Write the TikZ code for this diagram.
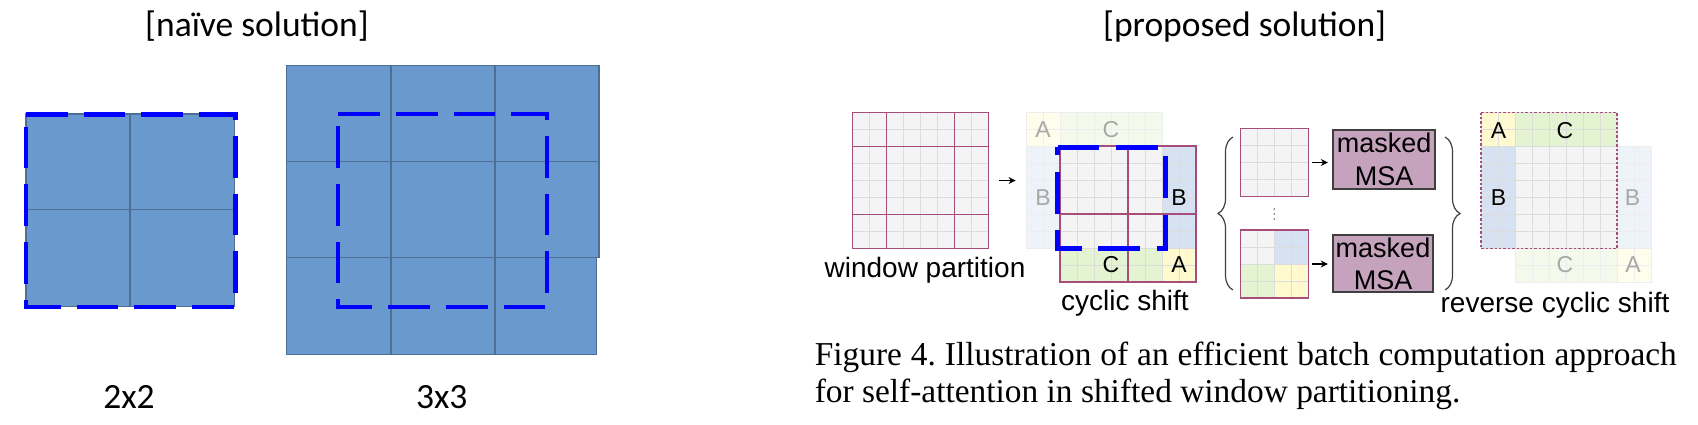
\documentclass[tikz,border=0pt]{standalone}
\usepackage{fontspec}
\setmainfont{Liberation Sans}
\newfontfamily\titlefont{Carlito}
\newfontfamily\capfont{Liberation Serif}
\usetikzlibrary{arrows.meta,decorations.pathreplacing,fit}
\definecolor{naivefill}{HTML}{6A99CE}
\definecolor{naiveline}{HTML}{4D6F96}
\definecolor{dashblue}{HTML}{0000FF}
\definecolor{cellgray}{HTML}{F4F4F4}
\definecolor{cellline}{HTML}{DCDCDC}
\definecolor{fadeline}{HTML}{EDEDED}
\definecolor{winline}{HTML}{A64D79}
\definecolor{cA}{HTML}{FFF9CF}
\definecolor{cB}{HTML}{D6E1F2}
\definecolor{cC}{HTML}{E4F4D2}
\definecolor{fA}{HTML}{FFFDEB}
\definecolor{fB}{HTML}{EEF2F9}
\definecolor{fC}{HTML}{F3FAEB}
\definecolor{msafill}{HTML}{C5A3BD}
\definecolor{msaline}{HTML}{3F3F3F}
\definecolor{fadetext}{HTML}{A8A8A8}
\newcommand{\cellsgrid}[5][cellgrid]{%
  \foreach \gi in {0,...,#4}{\draw[#1] ({#2+17*\gi},#3) -- ({#2+17*\gi},{#3+17*#5});}%
  \foreach \gj in {0,...,#5}{\draw[#1] (#2,{#3+17*\gj}) -- ({#2+17*#4},{#3+17*\gj});}%
}
\frenchspacing
\begin{document}
\begin{tikzpicture}[x=0.5pt,y=-0.5pt,
  naivecell/.style={fill=naivefill, draw=naiveline, line width=0.7pt},
  naivegrid/.style={draw=naiveline, line width=0.7pt},
  bluedash/.style={draw=dashblue, line width=2.1pt, dash pattern=on 20.85pt off 8pt},
  bluedashb/.style={draw=dashblue, line width=2.5pt, dash pattern=on 20.85pt off 8.35pt},
  window/.style={draw=winline, line width=0.8pt},
  cellgrid/.style={draw=cellline, line width=0.5pt},
  fadegrid/.style={draw=fadeline, line width=0.5pt},
  title/.style={font=\titlefont\fontsize{17.75}{20}\selectfont, anchor=base, inner sep=0},
  lbl/.style={font=\fontsize{14}{16}\selectfont, anchor=base, inner sep=0},
  letter/.style={font=\fontsize{11.5}{13}\selectfont, inner sep=0},
  fadeletter/.style={letter, text=fadetext},
  msabox/.style={fill=msafill, draw=msaline, line width=1pt, align=center,
    font=\fontsize{13.5}{16.3}\selectfont, inner sep=0},
  arr/.style={-{Stealth[length=3.5pt,width=3.5pt]}, line width=0.6pt},
  curly/.style={decorate, decoration={brace, amplitude=7.5pt}, draw=black!75, line width=0.6pt},
  capt/.style={font=\capfont\fontsize{16.7}{19}\selectfont, anchor=base west, inner sep=0}
]
\useasboundingbox (0,0) rectangle (1698,424);

% ---------- naive solution ----------
\node[title] (naivetitle) at (257,36) {[naïve solution]};
\filldraw[naivecell] (26,114) rectangle (234.3,306.7);
\draw[naivegrid] (130,114) -- (130,306.7);
\draw[naivegrid] (26,209.3) -- (234.3,209.3);
\draw[bluedash] (26,114.5) -- (235.5,114.5) -- (235.5,307) -- (26,307) -- cycle;

\filldraw[naivecell] (286.7,65.7) rectangle (599,257.7);
\filldraw[naivecell] (286.7,257.7) rectangle (596.7,354.3);
\draw[naivegrid] (391,65.7) -- (391,354.3);
\draw[naivegrid] (495,65.7) -- (495,354.3);
\draw[naivegrid] (286.7,161.7) -- (599,161.7);
\draw[bluedash] (338.3,114) -- (547.3,114) -- (547.3,307) -- (338.3,307) -- cycle;

\node[title] (lbltwo) at (129,408) {2x2};
\node[title] (lblthree) at (441.7,408) {3x3};

% ---------- proposed solution ----------
\node[title] (proptitle) at (1244.7,36) {[proposed solution]};

% window partition
\fill[cellgray] (852.5,112.5) rectangle (988.5,248.5);
\cellsgrid{852.5}{112.5}{8}{8}
\draw[window] (886.5,112.5) -- (886.5,248.5);
\draw[window] (954.5,112.5) -- (954.5,248.5);
\draw[window] (852.5,146.5) -- (988.5,146.5);
\draw[window] (852.5,214.5) -- (988.5,214.5);
\draw[window] (852.5,112.5) rectangle (988.5,248.5);
\node[fit={(852.5,112.5)(988.5,248.5)}, inner sep=0] (wp) {};
\node[lbl] (wplbl) at (925,277) {window partition};

% cyclic shift: faded original part
\fill[fA] (1026,112) rectangle (1060,146);
\fill[fC] (1060,112) rectangle (1162,146);
\fill[fB] (1026,146) rectangle (1060,248);
\cellsgrid[fadegrid]{1026}{112}{8}{2}
\cellsgrid[fadegrid]{1026}{146}{2}{6}
\node[fit={(1026,112)(1162,248)}, inner sep=0] (csfade) {};
\node[fadeletter] (fa1) at (1043,129.5) {A};
\node[fadeletter] (fc1) at (1111,129.5) {C};
\node[fadeletter] (fb1) at (1043,197.5) {B};
% cyclic shift: main
\fill[cellgray] (1060,146) rectangle (1196,282);
\fill[cB] (1162,146) rectangle (1196,248);
\fill[cC] (1060,248) rectangle (1162,282);
\fill[cA] (1162,248) rectangle (1196,282);
\cellsgrid{1060}{146}{8}{8}
\draw[window] (1128,146) -- (1128,282);
\draw[window] (1060,214) -- (1196,214);
\draw[window] (1060,146) rectangle (1196,282);
\node[fit={(1060,146)(1196,282)}, inner sep=0] (cs) {};
\node[letter] (lb1) at (1179,197.5) {B};
\node[letter] (lc1) at (1111,265) {C};
\node[letter] (la1) at (1179,265) {A};
\draw[bluedashb] (1057.5,147) -- (1165,147) -- (1165,248) -- (1057.5,248) -- cycle;
\node[lbl] (cslbl) at (1125,310) {cyclic shift};

\draw[arr, shorten <=5.25pt, shorten >=5pt] (wp.east) -- (csfade.west |- wp.east);

% braces and small windows
\coordinate (lbtop) at (1233,137);
\coordinate (lbbot) at (1233,290);
\coordinate (rbtop) at (1445,137);
\coordinate (rbbot) at (1445,290);
\draw[curly] (lbbot) -- (lbtop);
\draw[curly] (rbtop) -- (rbbot);

\fill[cellgray] (1240.5,128.5) rectangle (1308.5,196.5);
\cellsgrid{1240.5}{128.5}{4}{4}
\draw[window] (1240.5,128.5) rectangle (1308.5,196.5);
\node[fit={(1240.5,128.5)(1308.5,196.5)}, inner sep=0] (sgone) {};

\fill[cellgray] (1240.5,230) rectangle (1274.5,264);
\fill[cB] (1274.5,230) rectangle (1308.5,264);
\fill[cC] (1240.5,264) rectangle (1274.5,298);
\fill[cA] (1274.5,264) rectangle (1308.5,298);
\cellsgrid{1240.5}{230}{4}{4}
\draw[window] (1240.5,230) rectangle (1308.5,298);
\node[fit={(1240.5,230)(1308.5,298)}, inner sep=0] (sgtwo) {};

\fill[black!60] (1274.3,209) circle[radius=0.45pt];
\fill[black!60] (1274.3,214) circle[radius=0.45pt];
\fill[black!60] (1274.3,219) circle[radius=0.45pt];

\node[msabox, minimum width=51pt, minimum height=29.5pt] (msaone) at (1384.2,159.2) {masked\\MSA};
\node[msabox, minimum width=49.8pt, minimum height=28.5pt] (msatwo) at (1383,263.9) {masked\\MSA};
\draw[arr, shorten <=1.6pt, shorten >=2.2pt] (sgone.east) -- (msaone.west |- sgone.east);
\draw[arr, shorten <=1.6pt, shorten >=2.2pt] (sgtwo.east) -- (msatwo.west |- sgtwo.east);

% reverse cyclic shift: faded part
\fill[fB] (1617,146.5) rectangle (1651,248.5);
\fill[fC] (1515,248.5) rectangle (1617,282.5);
\fill[fA] (1617,248.5) rectangle (1651,282.5);
\cellsgrid[fadegrid]{1617}{146.5}{2}{6}
\cellsgrid[fadegrid]{1515}{248.5}{8}{2}
\node[fadeletter] (fb2) at (1632.5,197.5) {B};
\node[fadeletter] (fc2) at (1565,265) {C};
\node[fadeletter] (fa2) at (1633,265) {A};
% reverse cyclic shift: main
\fill[cellgray] (1481,112.5) rectangle (1617,248.5);
\fill[cA] (1481,112.5) rectangle (1515,146.5);
\fill[cC] (1515,112.5) rectangle (1617,146.5);
\fill[cB] (1481,146.5) rectangle (1515,248.5);
\cellsgrid{1481}{112.5}{8}{8}
\draw[draw=winline, line width=0.6pt, dash pattern=on 1.2pt off 1pt] (1481,112.5) rectangle (1617,248.5);
\node[letter] (la2) at (1498.5,131) {A};
\node[letter] (lc2) at (1565,131) {C};
\node[letter] (lb2) at (1498.5,197.5) {B};
\node[lbl] (rcslbl) at (1555,312) {reverse cyclic shift};

% caption
\node[capt] (capone) at (814.4,365.5) {\makebox[431pt][s]{Figure 4. Illustration of an efficient batch computation approach}};
\node[capt] (captwo) at (814.4,402.5) {for self-attention in shifted window partitioning.};
\end{tikzpicture}
\end{document}
